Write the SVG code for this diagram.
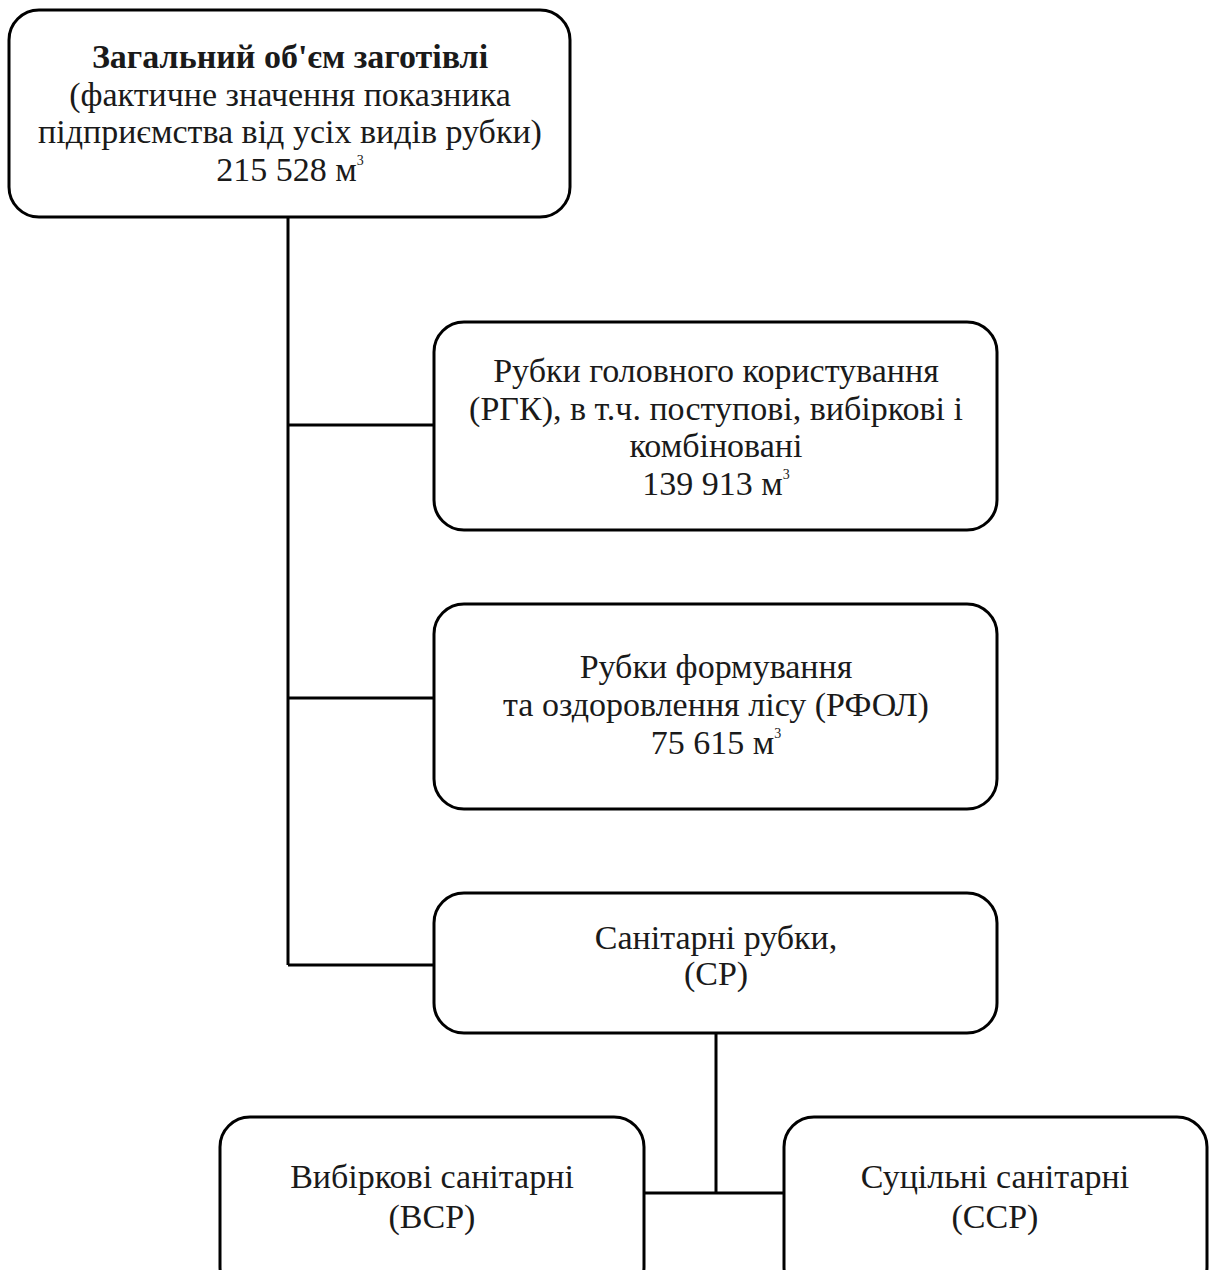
<svg xmlns="http://www.w3.org/2000/svg" width="1209" height="1270" viewBox="0 0 1209 1270">
<style>
.box{fill:#fff;stroke:#000;stroke-width:3}
.t{font-family:"Liberation Serif","Times New Roman",serif;font-size:34px;fill:#1a1a1a;text-anchor:middle}
.b{font-weight:bold}
.sup{font-size:14px}
.conn{stroke:#000;stroke-width:3;fill:none}
</style>
<rect width="1209" height="1270" fill="#fff"/>
<g id="connectors">
<path class="conn" d="M288 217 V965 M288 425 H434 M288 698 H434 M288 965 H434 M716 1033 V1193 M644 1193 H784"/>
</g>
<g id="n-total">
<rect class="box" x="9" y="10" width="561" height="207" rx="30"/>
<text class="t b" x="290" y="68">Загальний об'єм заготівлі</text>
<text class="t" x="290" y="106">(фактичне значення показника</text>
<text class="t" x="290" y="143">підприємства від усіх видів рубки)</text>
<text class="t" x="290" y="181">215 528 м<tspan class="sup" dy="-16">3</tspan></text>
</g>
<g id="n-rgk">
<rect class="box" x="434" y="322" width="563" height="208" rx="30"/>
<text class="t" x="716" y="382">Рубки головного користування</text>
<text class="t" x="716" y="420">(РГК), в т.ч. поступові, вибіркові і</text>
<text class="t" x="716" y="457">комбіновані</text>
<text class="t" x="716" y="495">139 913 м<tspan class="sup" dy="-16">3</tspan></text>
</g>
<g id="n-rfol">
<rect class="box" x="434" y="604" width="563" height="205" rx="30"/>
<text class="t" x="716" y="678">Рубки формування</text>
<text class="t" x="716" y="716">та оздоровлення лісу (РФОЛ)</text>
<text class="t" x="716" y="754">75 615 м<tspan class="sup" dy="-16">3</tspan></text>
</g>
<g id="n-sr">
<rect class="box" x="434" y="893" width="563" height="140" rx="30"/>
<text class="t" x="716" y="949">Санітарні рубки,</text>
<text class="t" x="716" y="985">(СР)</text>
</g>
<g id="n-vsr">
<rect class="box" x="220" y="1117" width="424" height="180" rx="30"/>
<text class="t" x="432" y="1188">Вибіркові санітарні</text>
<text class="t" x="432" y="1228">(ВСР)</text>
</g>
<g id="n-ssr">
<rect class="box" x="784" y="1117" width="423" height="180" rx="30"/>
<text class="t" x="995" y="1188">Суцільні санітарні</text>
<text class="t" x="995" y="1228">(ССР)</text>
</g>
</svg>
